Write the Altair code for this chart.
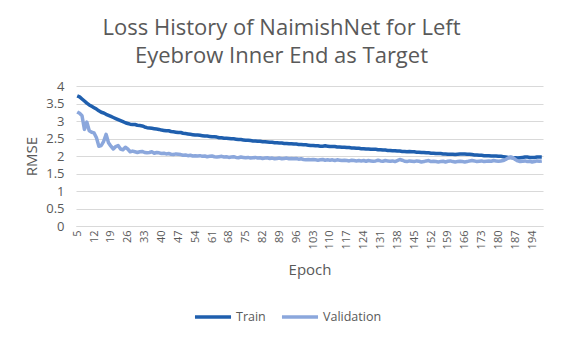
import altair as alt
import pandas as pd

epochs = list(range(5, 199))

train = [
    3.72, 3.69, 3.63, 3.57, 3.51, 3.46, 3.42, 3.38, 3.34, 3.29,
    3.25, 3.23, 3.19, 3.16, 3.13, 3.10, 3.07, 3.04, 3.01, 2.98,
    2.95, 2.93, 2.91, 2.90, 2.90, 2.88, 2.87, 2.86, 2.83, 2.81,
    2.80, 2.79, 2.78, 2.77, 2.76, 2.74, 2.73, 2.72, 2.72, 2.70,
    2.69, 2.68, 2.67, 2.67, 2.65, 2.64, 2.63, 2.62, 2.61, 2.60,
    2.60, 2.59, 2.58, 2.57, 2.57, 2.56, 2.55, 2.55, 2.54, 2.52,
    2.52, 2.51, 2.51, 2.50, 2.49, 2.49, 2.48, 2.47, 2.47, 2.46,
    2.45, 2.45, 2.44, 2.43, 2.43, 2.42, 2.42, 2.41, 2.41, 2.40,
    2.39, 2.39, 2.38, 2.38, 2.37, 2.37, 2.36, 2.36, 2.35, 2.35,
    2.34, 2.34, 2.33, 2.33, 2.32, 2.32, 2.31, 2.30, 2.30, 2.29,
    2.29, 2.28, 2.28, 2.29, 2.28, 2.27, 2.27, 2.27, 2.26, 2.26,
    2.25, 2.25, 2.24, 2.24, 2.23, 2.23, 2.22, 2.22, 2.21, 2.21,
    2.20, 2.20, 2.19, 2.19, 2.19, 2.18, 2.18, 2.17, 2.17, 2.16,
    2.16, 2.15, 2.15, 2.14, 2.14, 2.13, 2.13, 2.12, 2.13, 2.12,
    2.12, 2.11, 2.11, 2.10, 2.10, 2.09, 2.09, 2.08, 2.08, 2.07,
    2.07, 2.07, 2.06, 2.06, 2.05, 2.05, 2.05, 2.04, 2.05, 2.06,
    2.06, 2.06, 2.05, 2.05, 2.04, 2.03, 2.03, 2.02, 2.02, 2.01,
    2.01, 2.01, 2.00, 2.00, 2.00, 1.99, 1.99, 1.98, 1.97, 1.96,
    1.96, 1.95, 1.95, 1.94, 1.95, 1.96, 1.97, 1.97, 1.96, 1.96,
    1.96, 1.97, 1.97, 1.97,
]

validation = [
    3.26, 3.22, 3.15, 2.76, 2.97, 2.72, 2.68, 2.66, 2.52, 2.28,
    2.30, 2.42, 2.62, 2.38, 2.28, 2.20, 2.27, 2.30, 2.20, 2.18,
    2.25, 2.20, 2.12, 2.14, 2.12, 2.10, 2.12, 2.13, 2.10, 2.09,
    2.10, 2.12, 2.08, 2.10, 2.09, 2.07, 2.08, 2.06, 2.07, 2.05,
    2.04, 2.06, 2.05, 2.04, 2.02, 2.03, 2.01, 2.02, 2.00, 2.01,
    2.00, 2.01, 1.99, 2.00, 1.98, 1.99, 2.00, 1.98, 1.97, 1.98,
    1.99, 1.97, 1.98, 1.96, 1.97, 1.98, 1.96, 1.95, 1.97, 1.96,
    1.95, 1.96, 1.94, 1.95, 1.96, 1.94, 1.95, 1.93, 1.94, 1.95,
    1.93, 1.94, 1.92, 1.93, 1.94, 1.92, 1.93, 1.94, 1.92, 1.93,
    1.92, 1.93, 1.91, 1.92, 1.90, 1.89, 1.90, 1.89, 1.90, 1.89,
    1.88, 1.89, 1.90, 1.88, 1.89, 1.88, 1.89, 1.87, 1.89, 1.88,
    1.87, 1.88, 1.87, 1.86, 1.88, 1.87, 1.86, 1.87, 1.86, 1.87,
    1.85, 1.87, 1.86, 1.85, 1.86, 1.88, 1.86, 1.85, 1.87, 1.86,
    1.85, 1.86, 1.84, 1.87, 1.90, 1.88, 1.85, 1.84, 1.86, 1.85,
    1.84, 1.86, 1.85, 1.83, 1.84, 1.86, 1.87, 1.84, 1.85, 1.84,
    1.83, 1.84, 1.85, 1.83, 1.85, 1.86, 1.84, 1.83, 1.84, 1.85,
    1.84, 1.83, 1.84, 1.86, 1.87, 1.86, 1.84, 1.85, 1.86, 1.84,
    1.85, 1.86, 1.85, 1.87, 1.86, 1.85, 1.86, 1.87, 1.90, 1.94,
    1.97, 1.95, 1.90, 1.86, 1.84, 1.85, 1.86, 1.84, 1.85, 1.83,
    1.84, 1.86, 1.85, 1.86,
]

series_names = ["Train", "Validation"]
series_colors = ["#1F5FAE", "#8BA7DC"]
x_tick_values = list(range(5, 199, 7))
y_tick_values = [0, 0.5, 1, 1.5, 2, 2.5, 3, 3.5, 4]

rows = []
for e, t, v in zip(epochs, train, validation):
    rows.append({"Epoch": e, "RMSE": t, "Series": "Train"})
    rows.append({"Epoch": e, "RMSE": v, "Series": "Validation"})
df = pd.DataFrame(rows)

FONT = "Open Sans"
GRAY = "#595959"

chart = (
    alt.Chart(df)
    .mark_line(strokeWidth=3.5, strokeJoin="round")
    .encode(
        x=alt.X(
            "Epoch:Q",
            scale=alt.Scale(domain=[4.5, 198.5], nice=False, zero=False),
            axis=alt.Axis(
                values=x_tick_values,
                labelAngle=270,
                labelAlign="right",
                labelBaseline="middle",
                labelFontSize=11,
                labelColor=GRAY,
                labelFont=FONT,
                grid=False,
                ticks=False,
                domainColor="#D9D9D9",
                title="Epoch",
                titleFontSize=15,
                titleFontWeight="normal",
                titleColor=GRAY,
                titleFont=FONT,
                titlePadding=14,
                labelPadding=4,
                labelOverlap=False,
            ),
        ),
        y=alt.Y(
            "RMSE:Q",
            scale=alt.Scale(domain=[0, 4], nice=False),
            axis=alt.Axis(
                values=y_tick_values,
                format=".1~f",
                labelFontSize=13,
                labelColor=GRAY,
                labelFont=FONT,
                gridColor="#D9D9D9",
                domain=False,
                ticks=False,
                labelPadding=12,
                title="RMSE",
                titleFontSize=15,
                titleFontWeight="normal",
                titleColor=GRAY,
                titleFont=FONT,
                titlePadding=6,
            ),
        ),
        color=alt.Color(
            "Series:N",
            scale=alt.Scale(domain=series_names, range=series_colors),
            legend=alt.Legend(
                title=None,
                orient="none",
                legendX=117,
                legendY=211,
                direction="horizontal",
                symbolType="stroke",
                symbolSize=1300,
                symbolStrokeWidth=3.5,
                labelFontSize=12.5,
                labelColor=GRAY,
                labelFont=FONT,
                columnPadding=8,
                labelOffset=3,
            ),
        ),
    )
    .properties(
        width=467,
        height=140,
        autosize=alt.AutoSizeParams(type="none"),
        padding={"left": 68, "top": 78, "right": 3, "bottom": 110},
        title=alt.TitleParams(
            text=["Loss History of NaimishNet for Left", "Eyebrow Inner End as Target"],
            fontSize=22,
            fontWeight="normal",
            font=FONT,
            color=GRAY,
            anchor="middle",
            dx=-28,
            offset=12,
            lineHeight=28,
        ),
    )
    .configure_view(stroke=None)
)

chart.save("out.html", embed_options={"renderer": "svg", "actions": False})
